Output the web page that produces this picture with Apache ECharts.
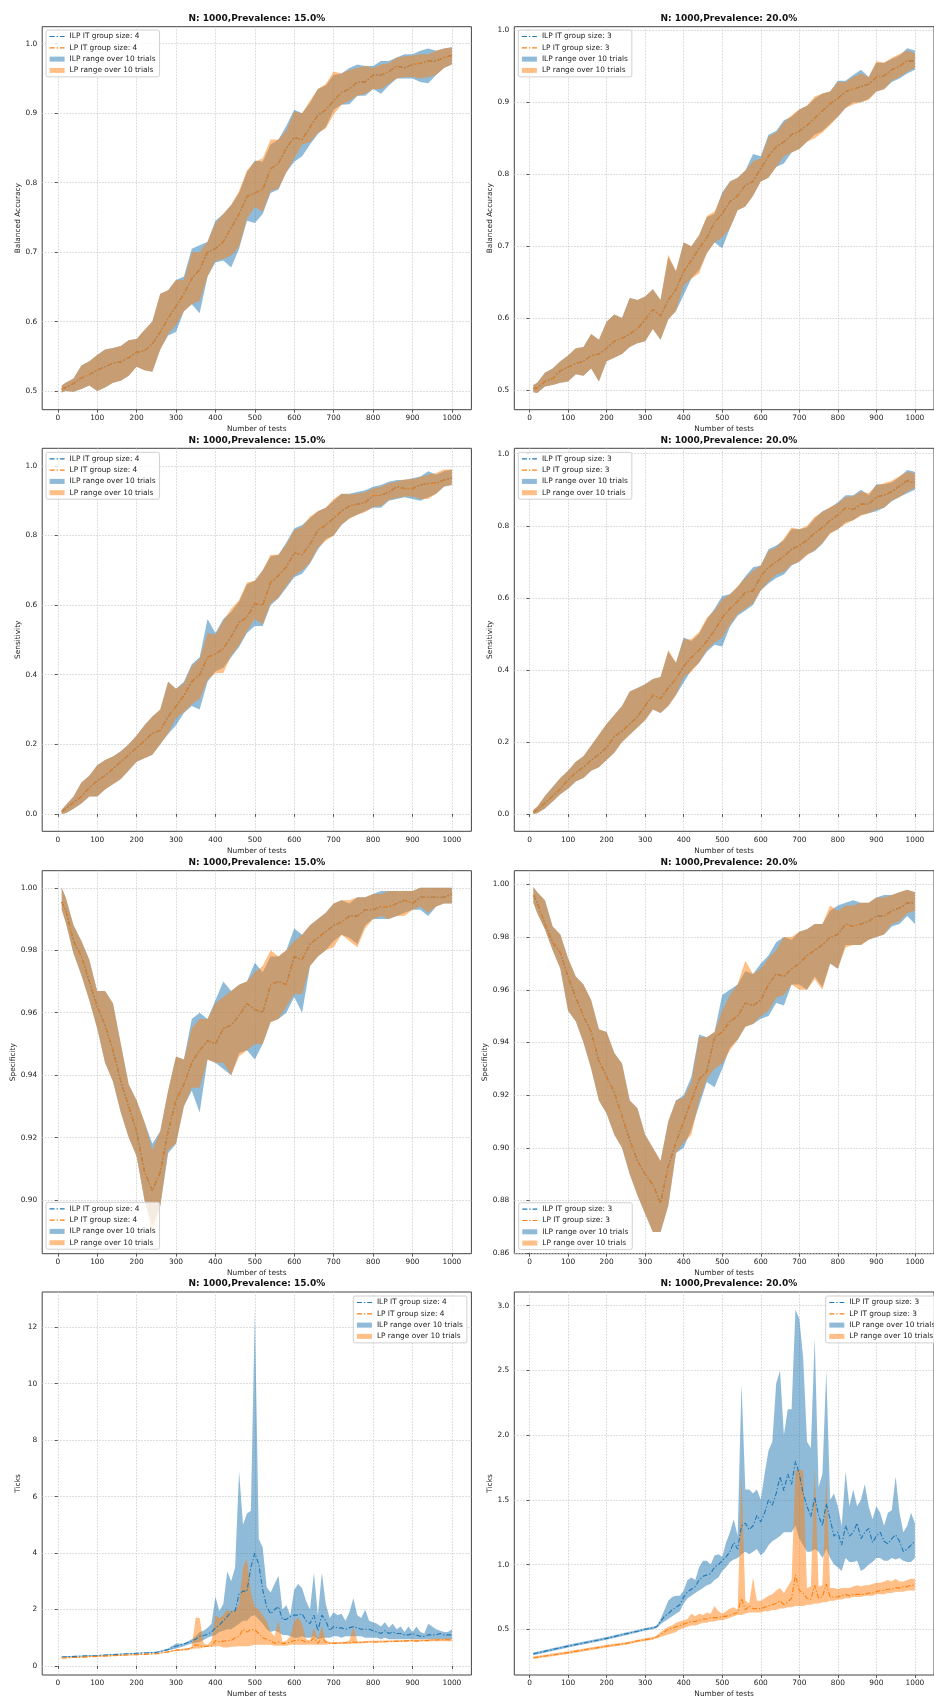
<!DOCTYPE html>
<html lang="en">
<head>
<meta charset="UTF-8">
<title>ILP vs LP over number of tests</title>
<script src="https://cdn.jsdelivr.net/npm/echarts@6.0.0/dist/echarts.min.js"></script>
<style>
html,body{margin:0;padding:0;background:#fff;}
#main{width:934px;height:1699px;}
</style>
</head>
<body>
<div id="main"></div>
<script>
// number of tests (rows 1-3)
var xs = [10,20,40,60,80,100,
  120,140,160,180,200,
  220,240,260,280,300,
  320,340,360,380,400,
  420,440,460,480,500,
  520,540,560,580,600,
  620,640,660,680,700,
  720,740,760,780,800,
  820,840,860,880,900,
  920,940,960,980,1000];

// ---- balanced accuracy, 15%
var ba15Mean = [0.503,0.505,0.511,0.519,0.524,0.530,
  0.535,0.540,0.542,0.548,0.556,
  0.558,0.568,0.585,0.605,0.622,
  0.640,0.662,0.675,0.700,0.705,
  0.715,0.735,0.755,0.780,0.785,
  0.790,0.820,0.828,0.850,0.865,
  0.862,0.880,0.897,0.905,0.918,
  0.930,0.935,0.945,0.945,0.955,
  0.955,0.960,0.968,0.965,0.970,
  0.972,0.975,0.975,0.980,0.983];
var ba15IlpLo = [0.498,0.500,0.499,0.503,0.508,0.500,
  0.505,0.512,0.515,0.522,0.535,
  0.530,0.528,0.560,0.580,0.585,
  0.615,0.625,0.612,0.665,0.685,
  0.688,0.678,0.705,0.745,0.742,
  0.755,0.785,0.790,0.815,0.830,
  0.838,0.855,0.870,0.880,0.905,
  0.912,0.913,0.925,0.925,0.935,
  0.928,0.940,0.950,0.950,0.950,
  0.945,0.943,0.955,0.965,0.970];
var ba15IlpHi = [0.508,0.512,0.518,0.537,0.543,0.552,
  0.560,0.562,0.565,0.573,0.575,
  0.588,0.600,0.640,0.645,0.660,
  0.665,0.705,0.710,0.715,0.745,
  0.755,0.768,0.785,0.815,0.832,
  0.830,0.855,0.862,0.882,0.905,
  0.900,0.915,0.935,0.940,0.955,
  0.957,0.965,0.970,0.968,0.968,
  0.975,0.975,0.980,0.985,0.985,
  0.990,0.993,0.990,0.993,0.995];
var ba15LpLo = [0.498,0.500,0.499,0.503,0.508,0.500,
  0.505,0.512,0.515,0.522,0.535,
  0.530,0.528,0.560,0.582,0.595,
  0.615,0.625,0.630,0.665,0.688,
  0.690,0.695,0.708,0.748,0.765,
  0.758,0.788,0.792,0.815,0.835,
  0.855,0.858,0.872,0.878,0.898,
  0.912,0.918,0.925,0.928,0.935,
  0.935,0.942,0.950,0.952,0.952,
  0.950,0.952,0.955,0.965,0.970];
var ba15LpHi = [0.508,0.512,0.518,0.537,0.543,0.552,
  0.560,0.562,0.565,0.573,0.575,
  0.588,0.600,0.640,0.645,0.660,
  0.660,0.700,0.700,0.715,0.742,
  0.755,0.768,0.788,0.818,0.830,
  0.835,0.862,0.862,0.875,0.902,
  0.900,0.918,0.935,0.942,0.960,
  0.957,0.962,0.965,0.968,0.965,
  0.970,0.972,0.980,0.982,0.983,
  0.985,0.985,0.990,0.993,0.995];

// ---- balanced accuracy, 20%
var ba20Mean = [0.502,0.503,0.512,0.516,0.527,0.532,
  0.537,0.540,0.548,0.550,0.558,
  0.568,0.572,0.578,0.585,0.598,
  0.612,0.603,0.625,0.640,0.665,
  0.680,0.697,0.712,0.733,0.745,
  0.762,0.770,0.785,0.790,0.808,
  0.825,0.838,0.845,0.855,0.860,
  0.868,0.878,0.888,0.898,0.905,
  0.915,0.918,0.922,0.925,0.935,
  0.937,0.945,0.950,0.958,0.957];
var ba20IlpLo = [0.497,0.496,0.505,0.507,0.510,0.512,
  0.522,0.520,0.530,0.512,0.540,
  0.545,0.550,0.560,0.565,0.568,
  0.585,0.570,0.598,0.610,0.632,
  0.655,0.667,0.690,0.705,0.697,
  0.725,0.750,0.755,0.770,0.790,
  0.795,0.810,0.815,0.830,0.835,
  0.845,0.855,0.860,0.870,0.880,
  0.892,0.900,0.900,0.905,0.915,
  0.918,0.928,0.933,0.940,0.945];
var ba20IlpHi = [0.507,0.510,0.524,0.530,0.540,0.548,
  0.558,0.560,0.578,0.570,0.595,
  0.605,0.600,0.628,0.625,0.630,
  0.640,0.625,0.685,0.665,0.705,
  0.700,0.715,0.740,0.745,0.775,
  0.790,0.795,0.805,0.828,0.825,
  0.855,0.860,0.875,0.880,0.890,
  0.895,0.905,0.912,0.915,0.930,
  0.930,0.938,0.945,0.935,0.955,
  0.955,0.960,0.965,0.975,0.972];
var ba20LpLo = [0.497,0.496,0.505,0.507,0.510,0.512,
  0.522,0.520,0.530,0.512,0.540,
  0.545,0.550,0.560,0.565,0.568,
  0.585,0.570,0.598,0.610,0.645,
  0.655,0.662,0.690,0.705,0.712,
  0.725,0.750,0.755,0.770,0.790,
  0.795,0.810,0.825,0.830,0.835,
  0.845,0.850,0.858,0.868,0.880,
  0.892,0.897,0.900,0.903,0.915,
  0.918,0.930,0.935,0.942,0.948];
var ba20LpHi = [0.507,0.510,0.524,0.530,0.540,0.548,
  0.558,0.560,0.578,0.570,0.595,
  0.605,0.600,0.628,0.625,0.630,
  0.640,0.625,0.688,0.665,0.705,
  0.700,0.715,0.742,0.748,0.772,
  0.790,0.795,0.805,0.818,0.822,
  0.852,0.858,0.872,0.882,0.890,
  0.895,0.908,0.912,0.915,0.928,
  0.928,0.935,0.940,0.935,0.957,
  0.955,0.962,0.967,0.972,0.968];

// ---- sensitivity, 15%
var se15Mean = [0.007,0.015,0.033,0.050,0.075,0.095,
  0.110,0.130,0.150,0.170,0.190,
  0.210,0.232,0.240,0.280,0.310,
  0.340,0.380,0.400,0.450,0.460,
  0.475,0.510,0.550,0.565,0.605,
  0.600,0.665,0.685,0.710,0.750,
  0.745,0.775,0.815,0.830,0.850,
  0.870,0.885,0.890,0.895,0.915,
  0.915,0.925,0.940,0.935,0.935,
  0.945,0.950,0.950,0.960,0.965];
var se15IlpLo = [0.000,0.002,0.015,0.030,0.050,0.050,
  0.070,0.085,0.100,0.125,0.150,
  0.160,0.170,0.200,0.230,0.255,
  0.290,0.310,0.300,0.380,0.410,
  0.420,0.450,0.480,0.520,0.540,
  0.540,0.600,0.620,0.650,0.680,
  0.690,0.720,0.760,0.790,0.800,
  0.830,0.850,0.860,0.870,0.880,
  0.880,0.900,0.905,0.910,0.905,
  0.900,0.910,0.920,0.940,0.945];
var se15IlpHi = [0.012,0.025,0.050,0.090,0.110,0.140,
  0.155,0.165,0.180,0.200,0.225,
  0.255,0.280,0.300,0.380,0.360,
  0.380,0.430,0.450,0.560,0.520,
  0.560,0.580,0.610,0.660,0.670,
  0.700,0.740,0.745,0.780,0.820,
  0.830,0.850,0.870,0.880,0.900,
  0.920,0.920,0.925,0.930,0.940,
  0.945,0.955,0.960,0.960,0.965,
  0.970,0.985,0.975,0.985,0.990];
var se15LpLo = [0.000,0.002,0.015,0.030,0.050,0.050,
  0.070,0.085,0.100,0.125,0.150,
  0.160,0.170,0.200,0.232,0.275,
  0.292,0.315,0.330,0.385,0.405,
  0.405,0.455,0.485,0.525,0.560,
  0.545,0.605,0.622,0.655,0.685,
  0.700,0.722,0.765,0.785,0.800,
  0.832,0.848,0.860,0.868,0.882,
  0.885,0.902,0.908,0.912,0.912,
  0.905,0.905,0.920,0.942,0.945];
var se15LpHi = [0.012,0.025,0.050,0.090,0.110,0.140,
  0.155,0.165,0.180,0.200,0.225,
  0.255,0.280,0.300,0.380,0.360,
  0.375,0.425,0.445,0.520,0.515,
  0.555,0.590,0.615,0.665,0.670,
  0.700,0.745,0.745,0.775,0.815,
  0.825,0.855,0.870,0.880,0.905,
  0.920,0.918,0.920,0.925,0.935,
  0.940,0.950,0.955,0.962,0.962,
  0.968,0.975,0.980,0.990,0.990];

// ---- sensitivity, 20%
var se20Mean = [0.005,0.012,0.030,0.050,0.070,0.095,
  0.115,0.130,0.150,0.165,0.185,
  0.215,0.230,0.250,0.270,0.300,
  0.330,0.320,0.350,0.375,0.410,
  0.435,0.455,0.480,0.510,0.545,
  0.570,0.590,0.615,0.620,0.660,
  0.685,0.700,0.715,0.735,0.745,
  0.760,0.780,0.795,0.815,0.830,
  0.850,0.845,0.860,0.860,0.880,
  0.885,0.895,0.910,0.925,0.920];
var se20IlpLo = [0.000,0.002,0.015,0.035,0.055,0.070,
  0.090,0.100,0.120,0.130,0.150,
  0.170,0.200,0.220,0.240,0.260,
  0.290,0.280,0.300,0.330,0.365,
  0.400,0.420,0.450,0.470,0.465,
  0.520,0.550,0.565,0.580,0.620,
  0.640,0.655,0.665,0.690,0.700,
  0.720,0.730,0.750,0.780,0.790,
  0.810,0.815,0.830,0.835,0.840,
  0.850,0.868,0.880,0.890,0.900];
var se20IlpHi = [0.012,0.020,0.050,0.075,0.100,0.120,
  0.145,0.160,0.190,0.220,0.250,
  0.275,0.300,0.340,0.350,0.360,
  0.375,0.380,0.450,0.420,0.490,
  0.480,0.500,0.540,0.570,0.605,
  0.610,0.630,0.660,0.685,0.690,
  0.735,0.745,0.760,0.790,0.790,
  0.795,0.820,0.840,0.850,0.865,
  0.885,0.885,0.900,0.885,0.915,
  0.915,0.920,0.935,0.955,0.950];
var se20LpLo = [0.000,0.002,0.015,0.035,0.055,0.070,
  0.090,0.100,0.120,0.130,0.150,
  0.170,0.200,0.220,0.240,0.260,
  0.290,0.280,0.300,0.330,0.380,
  0.395,0.420,0.455,0.475,0.490,
  0.525,0.555,0.570,0.585,0.620,
  0.645,0.665,0.672,0.692,0.700,
  0.718,0.732,0.752,0.778,0.790,
  0.805,0.815,0.828,0.835,0.845,
  0.850,0.870,0.880,0.895,0.905];
var se20LpHi = [0.012,0.020,0.050,0.075,0.100,0.120,
  0.145,0.160,0.190,0.220,0.250,
  0.275,0.300,0.340,0.350,0.360,
  0.375,0.380,0.455,0.420,0.485,
  0.485,0.505,0.545,0.565,0.595,
  0.610,0.632,0.655,0.675,0.690,
  0.730,0.740,0.765,0.795,0.790,
  0.800,0.825,0.838,0.852,0.862,
  0.880,0.882,0.895,0.890,0.912,
  0.918,0.925,0.938,0.950,0.945];

// ---- specificity, 15%
var sp15Mean = [0.9955,0.993,0.983,0.978,0.970,0.962,
  0.956,0.948,0.938,0.930,0.922,
  0.909,0.903,0.909,0.922,0.932,
  0.937,0.944,0.948,0.951,0.950,
  0.955,0.956,0.959,0.963,0.961,
  0.960,0.969,0.970,0.969,0.978,
  0.977,0.982,0.984,0.986,0.988,
  0.989,0.991,0.991,0.993,0.993,
  0.994,0.994,0.995,0.996,0.995,
  0.997,0.997,0.997,0.997,0.998];
var sp15IlpLo = [0.993,0.989,0.979,0.972,0.964,0.955,
  0.944,0.938,0.928,0.920,0.914,
  0.900,0.892,0.898,0.915,0.918,
  0.930,0.935,0.928,0.945,0.944,
  0.942,0.940,0.947,0.948,0.945,
  0.950,0.957,0.958,0.960,0.965,
  0.960,0.975,0.978,0.980,0.983,
  0.985,0.984,0.982,0.988,0.990,
  0.990,0.990,0.991,0.992,0.993,
  0.993,0.991,0.994,0.995,0.995];
var sp15IlpHi = [1.000,0.997,0.988,0.983,0.977,0.967,
  0.967,0.963,0.950,0.937,0.932,
  0.925,0.918,0.922,0.935,0.946,
  0.945,0.958,0.960,0.958,0.964,
  0.970,0.967,0.969,0.970,0.976,
  0.973,0.978,0.978,0.980,0.987,
  0.985,0.988,0.990,0.992,0.995,
  0.996,0.995,0.997,0.997,0.998,
  0.999,0.999,0.999,0.999,0.999,
  1.000,1.000,1.000,1.000,1.000];
var sp15LpLo = [0.993,0.989,0.979,0.972,0.964,0.955,
  0.944,0.938,0.928,0.920,0.914,
  0.900,0.889,0.898,0.916,0.918,
  0.930,0.936,0.936,0.945,0.944,
  0.944,0.940,0.946,0.948,0.950,
  0.950,0.957,0.958,0.962,0.966,
  0.966,0.975,0.978,0.980,0.981,
  0.985,0.983,0.981,0.987,0.990,
  0.991,0.990,0.991,0.991,0.993,
  0.994,0.992,0.994,0.995,0.995];
var sp15LpHi = [1.000,0.997,0.988,0.983,0.977,0.967,
  0.967,0.963,0.950,0.937,0.932,
  0.925,0.916,0.922,0.935,0.946,
  0.945,0.955,0.958,0.958,0.963,
  0.965,0.967,0.969,0.970,0.973,
  0.975,0.980,0.978,0.980,0.983,
  0.985,0.988,0.990,0.992,0.995,
  0.996,0.996,0.997,0.997,0.998,
  0.998,0.999,0.999,0.999,0.999,
  1.000,1.000,1.000,1.000,1.000];

// ---- specificity, 20%
var sp20Mean = [0.996,0.993,0.985,0.978,0.974,0.965,
  0.957,0.950,0.944,0.933,0.927,
  0.921,0.912,0.903,0.895,0.890,
  0.886,0.879,0.893,0.902,0.910,
  0.918,0.926,0.929,0.942,0.944,
  0.948,0.950,0.955,0.954,0.956,
  0.962,0.966,0.965,0.968,0.970,
  0.973,0.975,0.977,0.980,0.981,
  0.985,0.984,0.985,0.986,0.988,
  0.988,0.990,0.991,0.993,0.993];
var sp20IlpLo = [0.993,0.989,0.983,0.975,0.968,0.952,
  0.948,0.940,0.930,0.918,0.913,
  0.905,0.900,0.890,0.882,0.875,
  0.868,0.868,0.878,0.898,0.900,
  0.907,0.916,0.925,0.923,0.930,
  0.938,0.941,0.946,0.947,0.949,
  0.950,0.955,0.954,0.962,0.962,
  0.960,0.965,0.961,0.970,0.968,
  0.977,0.977,0.977,0.979,0.980,
  0.981,0.984,0.985,0.988,0.985];
var sp20IlpHi = [0.999,0.997,0.994,0.984,0.981,0.972,
  0.965,0.962,0.956,0.945,0.944,
  0.936,0.932,0.918,0.915,0.905,
  0.900,0.895,0.910,0.918,0.920,
  0.927,0.943,0.942,0.944,0.958,
  0.960,0.962,0.967,0.966,0.970,
  0.973,0.978,0.980,0.979,0.982,
  0.983,0.985,0.985,0.990,0.992,
  0.993,0.994,0.993,0.993,0.995,
  0.996,0.996,0.997,0.998,0.997];
var sp20LpLo = [0.993,0.989,0.983,0.975,0.968,0.952,
  0.948,0.940,0.930,0.918,0.913,
  0.905,0.900,0.890,0.882,0.875,
  0.868,0.868,0.878,0.898,0.902,
  0.905,0.918,0.926,0.930,0.932,
  0.937,0.941,0.946,0.947,0.950,
  0.952,0.957,0.958,0.962,0.960,
  0.960,0.964,0.960,0.970,0.968,
  0.976,0.977,0.977,0.979,0.980,
  0.981,0.985,0.986,0.989,0.990];
var sp20LpHi = [0.999,0.997,0.994,0.984,0.981,0.972,
  0.965,0.962,0.956,0.945,0.944,
  0.936,0.932,0.918,0.915,0.905,
  0.900,0.895,0.910,0.918,0.919,
  0.925,0.942,0.942,0.944,0.952,
  0.958,0.962,0.971,0.966,0.968,
  0.972,0.975,0.980,0.980,0.982,
  0.983,0.985,0.985,0.992,0.990,
  0.992,0.992,0.993,0.993,0.995,
  0.995,0.996,0.997,0.998,0.997];

// number of tests (ticks row)
var ticksX = [10,100,200,250,280,300,320,330,
  340,350,360,370,380,390,400,
  410,420,430,440,450,460,470,480,490,500,
  510,520,530,540,550,560,570,580,590,600,
  610,620,630,640,650,660,670,680,690,700,
  710,720,730,740,750,760,770,780,790,800,
  810,820,830,840,850,860,870,880,890,900,
  910,920,930,940,950,960,970,980,990,1000];

// ---- ticks, 15%
var tk15Ilp = [0.32,0.37,0.45,0.48,0.58,0.70,0.78,0.83,
  0.88,0.95,1.05,1.08,1.12,1.20,1.35,
  1.45,1.60,1.75,1.92,1.95,2.55,2.65,2.65,3.50,4.00,
  3.60,2.70,2.10,1.85,2.00,2.10,1.65,1.65,1.75,1.80,
  1.80,1.85,1.60,1.50,1.80,1.25,1.80,1.60,1.25,1.40,
  1.35,1.35,1.30,1.35,1.40,1.35,1.30,1.30,1.30,1.25,
  1.20,1.15,1.25,1.15,1.20,1.15,1.15,1.10,1.10,1.15,
  1.10,1.05,1.05,1.10,1.10,1.10,1.15,1.10,1.10,1.10];
var tk15IlpLo = [0.31,0.36,0.44,0.47,0.55,0.62,0.70,0.75,
  0.80,0.82,0.85,0.92,1.00,1.05,1.10,
  1.20,1.25,1.30,1.30,1.40,1.50,1.60,1.60,1.75,1.80,
  1.65,1.50,1.30,1.20,1.25,1.20,1.10,1.10,1.05,1.00,
  1.00,1.05,1.00,1.00,1.05,0.95,1.00,1.00,1.00,1.05,
  1.05,1.00,1.05,1.05,1.05,1.05,1.05,1.00,1.00,1.00,
  1.00,0.95,1.00,0.95,0.95,0.95,0.95,0.95,0.95,0.95,
  0.95,0.95,0.95,0.95,0.95,0.95,0.95,0.95,0.95,0.95];
var tk15IlpHi = [0.34,0.39,0.47,0.50,0.62,0.80,0.80,0.88,
  0.95,1.05,1.20,1.25,1.35,1.50,2.45,
  1.95,2.20,3.35,3.00,3.50,6.90,5.00,5.40,5.50,12.6,
  4.50,4.20,2.80,2.60,2.90,3.20,2.00,2.15,1.80,2.70,
  2.90,2.75,2.30,2.00,3.30,1.80,3.30,2.20,1.70,1.90,
  1.80,1.85,1.60,1.90,2.40,1.80,1.70,2.00,1.60,1.55,
  1.50,1.40,1.55,1.35,1.50,1.30,1.40,1.20,1.40,1.20,
  1.40,1.20,1.15,1.50,1.40,1.30,1.25,1.20,1.20,1.30];
var tk15Lp = [0.28,0.34,0.40,0.43,0.50,0.56,0.58,0.60,
  0.65,0.75,0.72,0.68,0.70,0.70,0.90,
  0.85,0.88,0.90,0.90,1.00,1.05,1.30,1.20,1.30,1.28,
  1.15,1.00,0.95,0.90,0.80,0.85,0.80,0.80,0.85,0.90,
  0.92,0.90,0.85,0.85,1.00,0.80,1.00,0.85,0.80,0.80,
  0.80,0.82,0.82,0.82,0.85,0.83,0.83,0.85,0.85,0.85,
  0.85,0.86,0.86,0.88,0.87,0.88,0.88,0.88,0.90,0.90,
  0.88,0.90,0.90,0.90,0.92,0.92,0.93,0.93,0.93,0.92];
var tk15LpLo = [0.27,0.33,0.39,0.42,0.48,0.53,0.55,0.56,
  0.60,0.62,0.62,0.65,0.68,0.68,0.70,
  0.70,0.65,0.65,0.68,0.68,0.70,0.70,0.70,0.72,0.75,
  0.75,0.75,0.75,0.75,0.72,0.72,0.72,0.72,0.75,0.75,
  0.75,0.75,0.75,0.75,0.75,0.75,0.75,0.75,0.78,0.78,
  0.78,0.78,0.78,0.78,0.80,0.80,0.80,0.82,0.82,0.82,
  0.82,0.83,0.83,0.84,0.84,0.85,0.85,0.85,0.86,0.86,
  0.86,0.87,0.87,0.87,0.88,0.88,0.88,0.88,0.88,0.88];
var tk15LpHi = [0.30,0.36,0.42,0.45,0.52,0.58,0.62,0.63,
  0.68,1.72,1.70,0.80,0.75,0.90,1.80,
  1.70,1.80,2.00,1.90,2.00,2.20,3.50,3.80,2.60,2.10,
  2.00,1.80,1.60,1.20,1.05,1.60,0.85,0.90,1.05,1.60,
  1.70,1.50,0.95,0.90,1.35,0.95,1.40,0.90,0.85,0.85,
  0.85,0.85,0.86,0.90,1.40,0.88,0.88,0.88,0.89,0.89,
  0.89,0.90,0.90,0.90,0.90,0.91,0.91,0.92,0.92,0.94,
  0.93,0.94,0.94,0.95,0.96,0.96,0.96,0.96,0.97,0.96];

// ---- ticks, 20%
var tk20Ilp = [0.31,0.37,0.43,0.465,0.485,0.50,0.51,0.52,
  0.56,0.60,0.62,0.65,0.67,0.69,0.75,
  0.79,0.81,0.83,0.88,0.91,0.92,0.93,0.98,1.00,1.03,
  1.06,1.10,1.17,1.12,1.30,1.32,1.27,1.30,1.38,1.33,
  1.40,1.50,1.46,1.55,1.68,1.57,1.70,1.62,1.80,1.70,
  1.55,1.45,1.37,1.52,1.38,1.30,1.47,1.35,1.22,1.25,
  1.15,1.30,1.22,1.25,1.32,1.20,1.25,1.28,1.17,1.22,
  1.25,1.18,1.16,1.20,1.23,1.18,1.10,1.12,1.15,1.18];
var tk20IlpLo = [0.30,0.36,0.42,0.455,0.475,0.49,0.50,0.51,
  0.54,0.56,0.58,0.60,0.62,0.64,0.70,
  0.74,0.76,0.78,0.80,0.82,0.84,0.85,0.88,0.90,0.95,
  0.98,1.02,1.04,1.05,1.08,1.10,1.08,1.10,1.12,1.07,
  1.10,1.15,1.18,1.20,1.22,1.25,1.25,1.25,1.30,1.20,
  1.15,1.10,1.10,1.12,1.10,1.05,1.12,1.05,1.00,0.98,
  0.95,1.05,1.02,1.02,1.03,0.95,0.97,1.00,1.02,1.05,
  1.05,1.03,1.03,1.05,1.04,1.05,1.03,1.02,1.02,1.05];
var tk20IlpHi = [0.32,0.38,0.44,0.475,0.495,0.51,0.52,0.53,
  0.58,0.65,0.72,0.75,0.76,0.76,0.80,
  0.88,0.90,0.88,0.98,1.03,1.03,1.00,1.07,1.08,1.06,
  1.17,1.25,1.35,1.22,2.40,1.58,1.58,1.55,1.58,1.50,
  1.70,1.88,1.95,2.40,2.50,2.00,2.20,2.20,2.97,2.90,
  2.60,1.95,1.90,2.75,1.60,1.70,2.50,1.50,1.55,1.45,
  1.30,1.72,1.45,1.58,1.45,1.50,1.62,1.45,1.35,1.45,
  1.40,1.30,1.40,1.42,1.68,1.40,1.25,1.30,1.40,1.32];
var tk20Lp = [0.28,0.32,0.37,0.39,0.41,0.42,0.43,0.44,
  0.46,0.48,0.50,0.51,0.52,0.53,0.54,
  0.55,0.56,0.56,0.57,0.58,0.58,0.59,0.59,0.59,0.60,
  0.60,0.61,0.62,0.63,0.74,0.65,0.68,0.66,0.66,0.66,
  0.67,0.68,0.69,0.70,0.72,0.69,0.71,0.74,0.92,0.80,
  0.78,0.74,0.73,0.84,0.74,0.75,0.85,0.75,0.75,0.75,
  0.76,0.77,0.76,0.77,0.77,0.77,0.77,0.78,0.78,0.79,
  0.80,0.80,0.81,0.81,0.82,0.82,0.83,0.83,0.84,0.84];
var tk20LpLo = [0.27,0.31,0.36,0.38,0.40,0.41,0.42,0.43,
  0.44,0.45,0.46,0.47,0.48,0.50,0.51,
  0.52,0.53,0.53,0.54,0.55,0.55,0.56,0.56,0.57,0.57,
  0.58,0.59,0.60,0.61,0.61,0.62,0.63,0.63,0.63,0.63,
  0.64,0.64,0.65,0.65,0.66,0.66,0.67,0.67,0.68,0.68,
  0.68,0.69,0.69,0.70,0.70,0.71,0.71,0.72,0.72,0.73,
  0.73,0.74,0.74,0.75,0.75,0.75,0.76,0.76,0.76,0.77,
  0.77,0.77,0.78,0.78,0.79,0.79,0.79,0.80,0.80,0.80];
var tk20LpHi = [0.29,0.33,0.38,0.40,0.42,0.43,0.44,0.45,
  0.48,0.50,0.52,0.53,0.55,0.56,0.57,
  0.58,0.62,0.60,0.62,0.61,0.63,0.62,0.68,0.64,0.62,
  0.64,0.66,0.67,0.65,1.70,0.72,0.70,0.90,0.72,0.72,
  0.74,0.76,0.77,0.80,0.82,0.78,0.83,0.88,1.73,1.73,
  1.73,0.82,0.83,1.75,0.83,0.84,1.68,0.82,0.82,0.81,
  0.82,0.82,0.82,0.83,0.84,0.83,0.84,0.84,0.85,0.86,
  0.86,0.87,0.88,0.87,0.89,0.87,0.87,0.88,0.89,0.89];

// axis ticks
var xTicks = [0,100,200,300,400,500,600,700,800,900,1000];
var baTicks = [0.5,0.6,0.7,0.8,0.9,1.0];
var seTicks = [0.0,0.2,0.4,0.6,0.8,1.0];
var sp15Ticks = [0.90,0.92,0.94,0.96,0.98,1.00];
var sp20Ticks = [0.86,0.88,0.90,0.92,0.94,0.96,0.98,1.00];
var tk15Ticks = [0,2,4,6,8,10,12];
var tk20Ticks = [0.5,1.0,1.5,2.0,2.5,3.0];

var FONT = 'DejaVu Sans';
var BLUE = '#1f77b4', ORANGE = '#ff7f0e';
var DASH = [5, 2, 1.3, 2];

var panels = [
  {prev: '15.0', gs: 4, yName: 'Balanced Accuracy', x: xs, ilp: ba15Mean, lp: ba15Mean, ilpLo: ba15IlpLo, ilpHi: ba15IlpHi, lpLo: ba15LpLo, lpHi: ba15LpHi, yMin: 0.4732, yMax: 1.0245, ticks: baTicks, dec: 1},
  {prev: '20.0', gs: 3, yName: 'Balanced Accuracy', x: xs, ilp: ba20Mean, lp: ba20Mean, ilpLo: ba20IlpLo, ilpHi: ba20IlpHi, lpLo: ba20LpLo, lpHi: ba20LpHi, yMin: 0.4727, yMax: 1.005, ticks: baTicks, dec: 1},
  {prev: '15.0', gs: 4, yName: 'Sensitivity', x: xs, ilp: se15Mean, lp: se15Mean, ilpLo: se15IlpLo, ilpHi: se15IlpHi, lpLo: se15LpLo, lpHi: se15LpHi, yMin: -0.05, yMax: 1.0508, ticks: seTicks, dec: 1},
  {prev: '20.0', gs: 3, yName: 'Sensitivity', x: xs, ilp: se20Mean, lp: se20Mean, ilpLo: se20IlpLo, ilpHi: se20IlpHi, lpLo: se20LpLo, lpHi: se20LpHi, yMin: -0.048, yMax: 1.015, ticks: seTicks, dec: 1},
  {prev: '15.0', gs: 4, yName: 'Specificity', x: xs, ilp: sp15Mean, lp: sp15Mean, ilpLo: sp15IlpLo, ilpHi: sp15IlpHi, lpLo: sp15LpLo, lpHi: sp15LpHi, yMin: 0.8828, yMax: 1.0055, ticks: sp15Ticks, dec: 2},
  {prev: '20.0', gs: 3, yName: 'Specificity', x: xs, ilp: sp20Mean, lp: sp20Mean, ilpLo: sp20IlpLo, ilpHi: sp20IlpHi, lpLo: sp20LpLo, lpHi: sp20LpHi, yMin: 0.8598, yMax: 1.0052, ticks: sp20Ticks, dec: 2},
  {prev: '15.0', gs: 4, yName: 'Ticks', x: ticksX, ilp: tk15Ilp, lp: tk15Lp, ilpLo: tk15IlpLo, ilpHi: tk15IlpHi, lpLo: tk15LpLo, lpHi: tk15LpHi, yMin: -0.32, yMax: 13.25, ticks: tk15Ticks, dec: 0},
  {prev: '20.0', gs: 3, yName: 'Ticks', x: ticksX, ilp: tk20Ilp, lp: tk20Lp, ilpLo: tk20IlpLo, ilpHi: tk20IlpHi, lpLo: tk20LpLo, lpHi: tk20LpHi, yMin: 0.147, yMax: 3.106, ticks: tk20Ticks, dec: 1}
];

// layout
var gridLeft = [42.2, 514.3];
var gridTop = [26.7, 448.3, 870.7, 1292];
var gridW = 429.2, gridH = 383;
var legendPos = [[46, 30], [518.3, 30], [46, 452.3], [518.3, 452.3],
  [46, 1202.3], [518.7, 1202.7], [353.3, 1296], [825.7, 1296]];

function pairs(x, y) {
  return x.map(function (v, k) { return [v, y[k]]; });
}

// filled range between lo and hi, drawn as one polygon through the axis scales
function band(name, fill, i, x, lo, hi) {
  return {
    type: 'custom', name: name, xAxisIndex: i, yAxisIndex: i,
    coordinateSystem: 'cartesian2d', clip: true, silent: true,
    itemStyle: {color: fill},
    data: [[x[0], lo[0]]],
    renderItem: function (params, api) {
      var pts = [];
      for (var k = 0; k < x.length; k++) pts.push(api.coord([x[k], hi[k]]));
      for (var k = x.length - 1; k >= 0; k--) pts.push(api.coord([x[k], lo[k]]));
      return {type: 'polygon', shape: {points: pts}, style: {fill: fill, stroke: null}};
    }
  };
}

function meanLine(name, color, i, x, y) {
  return {
    type: 'line', name: name, xAxisIndex: i, yAxisIndex: i,
    data: pairs(x, y), symbol: 'none', silent: true,
    itemStyle: {color: color},
    lineStyle: {color: color, width: 1.1, type: DASH}
  };
}

var txt = {fontFamily: FONT, fontSize: 7.4, color: '#222'};
var gridLine = {show: true, lineStyle: {color: '#cdcdcd', width: 0.8, type: [1.6, 1.4]}};
var option = {animation: false, backgroundColor: '#fff', title: [], grid: [], xAxis: [], yAxis: [], legend: [], series: []};

panels.forEach(function (p, i) {
  var col = i % 2, row = Math.floor(i / 2);
  var left = gridLeft[col], top = gridTop[row];
  var ilpName = 'ILP IT group size: ' + p.gs, lpName = 'LP IT group size: ' + p.gs;

  option.grid.push({left: left, top: top, width: gridW, height: gridH, show: true,
    borderColor: '#444', borderWidth: 1, backgroundColor: 'transparent'});

  option.title.push({text: 'N: 1000,Prevalence: ' + p.prev + '%', left: left + gridW / 2, top: top - 8,
    textAlign: 'center', textVerticalAlign: 'middle', padding: 0,
    textStyle: {fontFamily: FONT, fontSize: 9, fontWeight: 'bold', color: '#111'}});

  option.xAxis.push({type: 'value', gridIndex: i, min: -39.5, max: 1049.5,
    name: 'Number of tests', nameLocation: 'middle', nameGap: 16, nameTextStyle: txt,
    axisLine: {show: false},
    axisTick: {show: true, length: 3, customValues: xTicks, lineStyle: {color: '#333', width: 0.8}},
    axisLabel: {customValues: xTicks, margin: 5, fontFamily: FONT, fontSize: 7.4, color: '#222',
      formatter: function (v) { return String(v); }},
    splitLine: gridLine});

  option.yAxis.push({type: 'value', gridIndex: i, min: p.yMin, max: p.yMax,
    name: p.yName, nameLocation: 'middle', nameGap: 21, nameTextStyle: txt,
    axisLine: {show: false},
    axisTick: {show: true, length: 3, customValues: p.ticks, lineStyle: {color: '#333', width: 0.8}},
    axisLabel: {customValues: p.ticks, margin: 5, fontFamily: FONT, fontSize: 7.4, color: '#222',
      formatter: function (v) { return v.toFixed(p.dec); }},
    splitLine: gridLine});

  option.legend.push({left: legendPos[i][0], top: legendPos[i][1], orient: 'vertical',
    itemWidth: 15, itemHeight: 5, itemGap: 2.3, padding: [2, 4, 2, 3],
    backgroundColor: 'rgba(255,255,255,0.8)', borderColor: '#d0d0d0', borderWidth: 1, borderRadius: 2,
    selectedMode: false, textStyle: {fontFamily: FONT, fontSize: 7.4, color: '#222', lineHeight: 9},
    data: [
      {name: ilpName, itemStyle: {opacity: 0}, lineStyle: {color: BLUE, width: 1.2, type: DASH}},
      {name: lpName, itemStyle: {opacity: 0}, lineStyle: {color: ORANGE, width: 1.2, type: DASH}},
      {name: 'ILP range over 10 trials', icon: 'rect', itemStyle: {color: 'rgba(31,119,180,0.5)'}},
      {name: 'LP range over 10 trials', icon: 'rect', itemStyle: {color: 'rgba(255,127,14,0.5)'}}
    ]});

  option.series.push(band('ILP range over 10 trials', 'rgba(31,119,180,0.5)', i, p.x, p.ilpLo, p.ilpHi));
  option.series.push(band('LP range over 10 trials', 'rgba(255,127,14,0.5)', i, p.x, p.lpLo, p.lpHi));
  option.series.push(meanLine(ilpName, BLUE, i, p.x, p.ilp));
  option.series.push(meanLine(lpName, ORANGE, i, p.x, p.lp));
});

var chart = echarts.init(document.getElementById('main'), null, {renderer: 'canvas'});
chart.setOption(option);
</script>
</body>
</html>
